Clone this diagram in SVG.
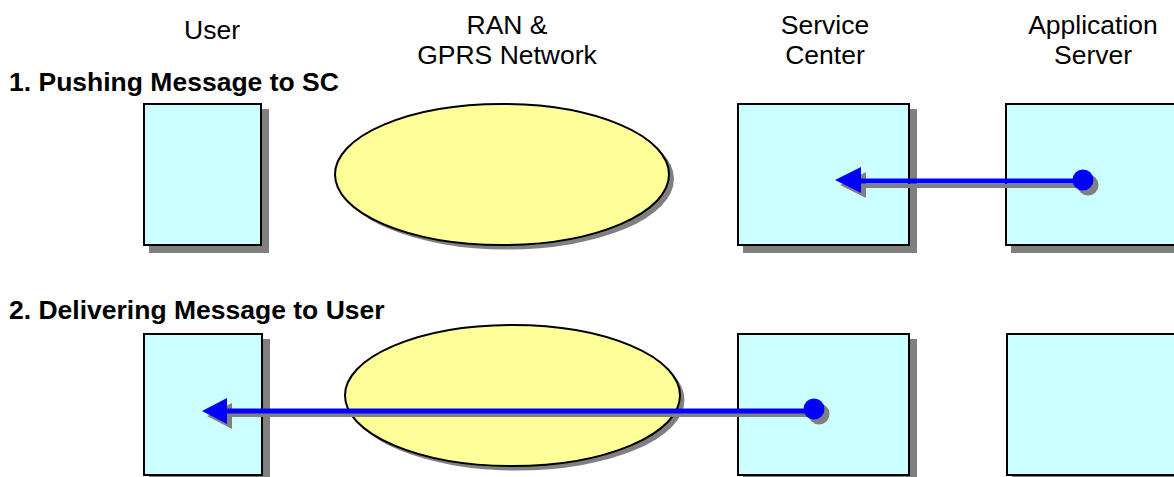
<svg xmlns="http://www.w3.org/2000/svg" width="1174" height="477" viewBox="0 0 1174 477">
<style>
.box{fill:#CCFFFF;stroke:#000;stroke-width:2}
.ell{fill:#FFFF99;stroke:#000;stroke-width:2}
.sh{fill:#808080;stroke:none}
.hdr{font-family:"Liberation Sans",Arial,sans-serif;font-size:26.5px;fill:#000;text-anchor:middle}
.ttl{font-family:"Liberation Sans",Arial,sans-serif;font-size:26.5px;font-weight:bold;fill:#000}
.bl{stroke:#0000FF;stroke-width:5;fill:none}
.gl{stroke:#808080;stroke-width:4;fill:none}
.bf{fill:#0000FF}
</style>
<rect width="1174" height="477" fill="#fff"/>
<g id="headers">
<text class="hdr" x="212" y="39">User</text>
<text class="hdr" x="507" y="34">RAN &amp;</text>
<text class="hdr" x="507" y="64">GPRS Network</text>
<text class="hdr" x="825" y="34">Service</text>
<text class="hdr" x="825" y="64">Center</text>
<text class="hdr" x="1093" y="34">Application</text>
<text class="hdr" x="1093" y="64">Server</text>
</g>
<text class="ttl" x="9" y="91">1. Pushing Message to SC</text>
<text class="ttl" x="9" y="319">2. Delivering Message to User</text>
<g id="user1"><rect class="sh" x="149" y="109" width="120" height="144"/><rect class="box" x="144" y="104" width="117" height="141"/></g>
<g id="ran1"><ellipse class="sh" cx="507" cy="179" rx="167" ry="70.5"/><ellipse class="ell" cx="502" cy="174.5" rx="167" ry="70.5"/></g>
<g id="sc1"><rect class="sh" x="743" y="109" width="174" height="144"/><rect class="box" x="738" y="104" width="171" height="141"/></g>
<g id="as1"><rect class="sh" x="1011" y="109" width="180" height="144"/><rect class="box" x="1006" y="104" width="180" height="141"/></g>
<g id="user2"><rect class="sh" x="149" y="339" width="121" height="144"/><rect class="box" x="144" y="334" width="118" height="141"/></g>
<g id="ran2"><ellipse class="sh" cx="517" cy="400" rx="167.5" ry="70.5"/><ellipse class="ell" cx="512.5" cy="395.5" rx="167.5" ry="70.5"/></g>
<g id="sc2"><rect class="sh" x="743" y="339" width="174" height="144"/><rect class="box" x="738" y="334" width="171" height="141"/></g>
<g id="as2"><rect class="sh" x="1012" y="339" width="180" height="144"/><rect class="box" x="1007" y="334" width="180" height="141"/></g>
<g id="connectors">
<g id="push">
<line class="gl" x1="864" y1="186" x2="1088" y2="186"/>
<polygon class="sh" points="840,185 866,172 866,198"/>
<circle class="sh" cx="1088" cy="185" r="10.5"/>
<line class="bl" x1="858" y1="181" x2="1083" y2="181"/>
<polygon class="bf" points="835,180 861,167 861,193"/>
<circle class="bf" cx="1083" cy="180" r="10.5"/>
</g>
<g id="deliver">
<line class="gl" x1="230" y1="415" x2="819" y2="415"/>
<polygon class="sh" points="207,416 232,403 232,429"/>
<circle class="sh" cx="819" cy="414" r="10.5"/>
<line class="bl" x1="224" y1="411" x2="814" y2="411"/>
<polygon class="bf" points="202,411 227,398 227,424"/>
<circle class="bf" cx="814" cy="409" r="10.5"/>
</g>
</g>
</svg>
